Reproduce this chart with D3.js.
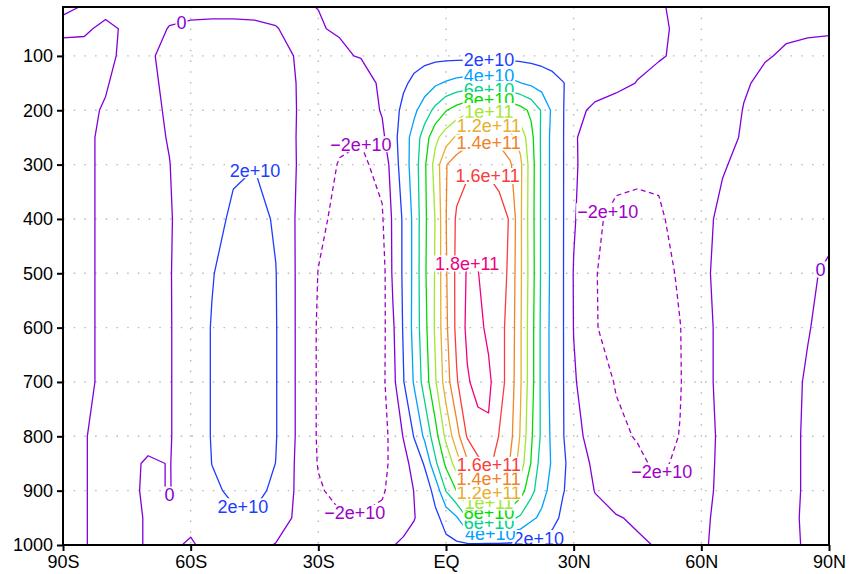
<!DOCTYPE html>
<html lang="en">
<head>
<meta charset="UTF-8">
<title>Zonal mean streamfunction</title>
<script src="https://d3js.org/d3.v7.min.js"></script>
<style>
  body { margin: 0; background: #fff; }
  text { font-family: "Liberation Sans", Arial, sans-serif; }
</style>
</head>
<body>
<svg width="850" height="574"></svg>
<script>
// grid columns: latitude (deg, south negative), finer in the tropics
const lats = [-90,-85,-80,-75,-70,-65,-60,-55,-50,-45,-40,-35,-30,-25,-20,-15,
  -12.5,-10,-7.5,-5,-2.5,0,2.5,5,7.5,10,12.5,15,17.5,20,22.5,25,27.5,
  30,35,40,45,50,55,60,65,70,75,80,85,90];
// grid rows: pressure (hPa), top to bottom
const plevs = [10,50,100,150,200,250,300,400,500,600,700,800,850,900,950,1000];

// streamfunction, in units of 1e10
const psi = [
  // 10
  [0.03,-0.01,-0.04,-0.03,-0.03,-0.03,-0.03,-0.03,-0.03,-0.03,-0.03,-0.03,0.005,0.02,0.03,0.04,
   0.04,0.04,0.04,0.04,0.04,0.04,0.04,0.04,0.04,0.04,0.04,0.04,0.04,0.04,0.04,0.04,0.04,
   0.04,0.035,0.03,0.02,0.005,-0.01,-0.02,-0.02,-0.02,-0.02,-0.02,-0.02,-0.02],
  // 50
  [-0.05,-0.02,0.03,-0.02,-0.04,0.005,0.02,0.025,0.025,0.02,0.005,-0.03,-0.03,0.05,0.15,0.25,
   0.3,0.35,0.4,0.45,0.5,0.55,0.6,0.6,0.6,0.6,0.6,0.55,0.5,0.5,0.45,0.4,0.35,
   0.3,0.25,0.15,0.1,0.03,-0.03,-0.06,-0.07,-0.07,-0.07,-0.06,-0.05,-0.04],
  // 100
  [0.1,0.05,0.05,-0.05,-0.05,0.1,0.15,0.2,0.25,0.25,0.15,-0.03,-0.15,-0.1,0.05,0.4,
   0.7,1.0,1.3,1.45,1.5,1.5,1.5,1.5,1.5,1.5,1.5,1.5,1.45,1.4,1.3,1.2,1.1,
   1.0,0.8,0.55,0.35,0.08,-0.15,-0.2,-0.15,-0.1,-0.03,0.05,0.1,0.12],
  // 150
  [0.15,0.05,0.02,-0.1,-0.1,0.1,0.2,0.35,0.5,0.55,0.4,-0.02,-0.3,-0.55,-0.5,0.2,
   0.9,1.7,2.4,3.0,3.7,4.2,4.6,4.8,4.9,4.9,4.8,4.5,4.05,3.6,3.1,2.6,2.05,
   1.6,0.9,0.4,-0.05,-0.3,-0.35,-0.3,-0.2,-0.05,0.1,0.2,0.25,0.25],
  // 200
  [0.2,0.05,-0.02,-0.2,-0.2,0.1,0.3,0.6,0.9,1.0,0.8,-0.02,-0.6,-1.0,-1.1,0.15,
   1.2,2.5,3.6,5.0,6.5,7.9,8.8,9.5,9.8,9.9,9.8,9.4,8.7,7.6,5.8,3.6,2.1,
   0.6,-0.4,-0.7,-0.8,-0.8,-0.6,-0.45,-0.25,0.02,0.2,0.3,0.3,0.3],
  // 250
  [0.2,0.05,-0.05,-0.25,-0.25,0.05,0.4,0.8,1.2,1.4,1.0,-0.05,-1.0,-1.7,-1.9,-0.4,
   1.3,3.0,4.8,7.0,9.5,11.0,12.3,13.2,13.6,13.6,13.4,12.6,11.3,8.6,5.6,3.4,2.1,
   0.2,-0.9,-1.1,-1.2,-1.2,-0.9,-0.6,-0.3,0.1,0.3,0.4,0.35,0.3],
  // 300
  [0.2,0.1,-0.1,-0.3,-0.3,-0.02,0.5,1.2,1.75,1.95,1.5,-0.05,-1.3,-2.1,-2.3,-1.5,
   0.9,3.0,4.9,7.7,10.8,13.9,15.0,15.5,15.7,15.7,15.4,14.3,12.4,9.0,5.6,3.4,2.1,
   0.3,-1.2,-1.6,-1.6,-1.6,-1.2,-0.6,-0.1,0.3,0.5,0.5,0.4,0.3],
  // 400
  [0.3,0.15,-0.15,-0.4,-0.4,-0.1,0.6,1.4,2.3,2.6,1.8,-0.2,-1.6,-2.5,-2.7,-2.2,
   0.3,2.3,4.5,7.6,10.1,13.95,16.3,17.3,17.5,17.1,16.6,15.9,12.3,8.9,5.6,3.4,2.1,
   0.2,-1.8,-2.3,-2.5,-2.3,-1.3,-0.4,0.3,0.6,0.7,0.6,0.4,0.2],
  // 500
  [0.4,0.15,-0.15,-0.5,-0.5,-0.1,0.9,1.9,2.8,3.0,2.05,-0.2,-2.05,-2.9,-3.1,-2.9,
   0.3,2.3,4.5,7.7,10.2,13.8,16.5,18.2,18.05,17.3,17.0,15.6,12.3,9.0,5.6,3.4,2.1,
   -0.1,-1.9,-2.8,-3.2,-2.9,-1.7,-0.3,0.4,0.6,0.6,0.4,0.1,-0.1],
  // 600
  [0.4,0.15,-0.15,-0.5,-0.5,-0.1,0.8,2.1,3.0,3.1,2.1,-0.2,-2.2,-3.1,-3.3,-2.7,
   -0.3,2.2,4.6,7.4,10.3,13.6,16.5,18.4,18.5,17.6,16.6,15.4,12.2,8.8,5.5,3.3,2.1,
   -0.05,-1.9,-2.6,-3.1,-3.1,-2.05,-0.5,0.4,0.6,0.6,0.5,0.05,-0.3],
  // 700
  [0.4,0.15,-0.15,-0.5,-0.5,-0.1,0.8,2.1,3.0,3.1,2.1,-0.2,-2.2,-3.1,-3.3,-2.5,
   -0.6,1.9,4.2,6.9,9.8,13.0,15.8,17.8,18.6,18.4,16.8,15.2,12.2,8.8,5.5,3.3,2.1,
   0.2,-1.3,-2.1,-2.8,-2.9,-2.1,-0.5,0.4,0.6,0.6,0.3,-0.1,-0.3],
  // 800
  [0.3,0.05,-0.3,-0.5,-0.5,-0.1,0.8,2.1,2.9,3.0,2.1,-0.2,-2.2,-3.0,-3.2,-2.6,
   -1.5,0.1,2.1,4.4,7.2,10.5,13.2,16.2,17.3,17.7,15.9,14.7,11.8,8.3,5.6,3.5,2.1,
   0.8,-1.0,-1.7,-2.1,-2.6,-1.95,-0.6,0.3,0.5,0.5,0.2,-0.1,-0.3],
  // 850
  [0.3,0.05,-0.3,-0.4,0.2,-0.05,0.7,2.02,2.8,2.9,1.98,-0.3,-2.1,-2.9,-3.0,-2.5,
   -1.6,-0.7,0.7,2.2,5.6,8.4,11.0,13.6,15.5,16.2,15.6,13.9,11.0,7.9,5.0,3.8,2.3,
   1.2,-0.4,-1.0,-1.7,-2.3,-1.7,-0.5,0.3,0.5,0.5,0.2,-0.1,-0.3],
  // 900
  [0.3,0.05,-0.3,-0.3,0.2,-0.05,0.6,1.7,2.3,2.4,1.7,-0.3,-1.8,-2.5,-2.6,-2.2,
   -1.5,-1.0,0.05,1.0,2.6,6.1,8.05,10.2,12.05,12.3,12.1,10.8,8.9,6.6,4.7,3.3,2.1,
   1.3,-0.05,-0.7,-1.2,-1.6,-1.3,-0.4,0.3,0.5,0.5,0.2,-0.1,-0.3],
  // 950
  [0.3,0.05,-0.3,-0.3,0.1,0.3,0.5,1.1,1.7,1.8,1.2,-0.4,-1.4,-1.8,-1.9,-1.6,
   -1.3,-0.9,-0.1,0.9,1.6,2.6,3.8,6.05,6.8,7.0,6.9,6.4,5.7,4.4,3.6,2.6,1.6,
   1.1,0.5,0.1,-0.2,-0.4,-0.4,-0.15,0.2,0.4,0.4,0.15,-0.1,-0.3],
  // 1000
  [0.3,0.05,-0.3,-0.3,0.1,0.3,-0.2,0.6,0.9,0.6,-0.1,-0.6,-0.9,-1.0,-1.0,-0.6,
   -0.1,0.4,0.8,1.1,1.4,1.6,1.7,1.75,1.75,1.7,1.7,1.65,1.6,1.5,1.35,1.2,1.1,
   0.9,0.6,0.4,0.2,-0.1,-0.3,-0.1,0.2,0.3,0.3,0.1,-0.05,-0.2]
];

// contour levels (1e10) and their colours
const levels = [-2, 0, 2, 4, 6, 8, 10, 12, 14, 16, 18];
const levelColors = ["#a000c8","#8200dc","#1e3cff","#00a0ff","#00d28c","#00dc00",
  "#a0e632","#e6af2d","#f08228","#fa3c3c","#f00082"];

const xTicks = [-90, -60, -30, 0, 30, 60, 90];
const xTickLabels = ["90S", "60S", "30S", "EQ", "30N", "60N", "90N"];
const yTicks = [100, 200, 300, 400, 500, 600, 700, 800, 900, 1000];

// where the contour labels sit: [level, lat, hPa]
const labelSpots = [
  [-2, -19, 250], [-2, -21.4, 940], [-2, 38.3, 387], [-2, 51.2, 869],
  [0, -62.5, 28], [0, -65, 925], [0, 87.4, 490],
  [2, -44.4, 309], [2, -47.9, 935], [2, 10.1, 111], [2, 22, 993],
  [4, 10.1, 135], [4, 10.4, 974],
  [6, 10.1, 160], [6, 10.1, 960],
  [8, 10.1, 180], [8, 10.1, 941],
  [10, 10.1, 200], [10, 10.1, 921],
  [12, 10.1, 227], [12, 10.1, 903],
  [14, 10.1, 255], [14, 10.1, 884],
  [16, 10.1, 310], [16, 10.1, 853],
  [18, 3.8, 481]
];

const X0 = 63, X1 = 829, Y0 = 7, Y1 = 545;
const svg = d3.select("svg");

const x = d3.scaleLinear().domain([-90, 90]).range([X0, X1]);
const y = d3.scaleLinear().domain([10, 1000]).range([Y0, Y1]);
// grid index -> coordinate (non uniform spacing)
const idxLat = d3.scaleLinear().domain(d3.range(lats.length)).range(lats).clamp(true);
const idxP = d3.scaleLinear().domain(d3.range(plevs.length)).range(plevs).clamp(true);

// dotted grid
const grid = svg.append("g")
  .attr("stroke", "#b8b8b8")
  .attr("stroke-width", 1.4)
  .attr("stroke-dasharray", "1.5 9.2");
grid.selectAll(".gx").data(xTicks.slice(1, -1)).join("line")
  .attr("x1", d => x(d)).attr("x2", d => x(d))
  .attr("y1", Y0).attr("y2", Y1);
grid.selectAll(".gy").data(yTicks.slice(0, -1)).join("line")
  .attr("x1", X0).attr("x2", X1)
  .attr("y1", d => y(d)).attr("y2", d => y(d));

// contours
const nx = lats.length, ny = plevs.length;
const contours = d3.contours()
  .size([nx, ny])
  .thresholds(levels)(psi.flat());

const toPx = p => [x(idxLat(p[0] - 0.5)), y(idxP(p[1] - 0.5))];
const eps = 0.01;
function onFrame(a, b) {
  return (Math.abs(a[0] - X0) < eps && Math.abs(b[0] - X0) < eps) ||
         (Math.abs(a[0] - X1) < eps && Math.abs(b[0] - X1) < eps) ||
         (Math.abs(a[1] - Y0) < eps && Math.abs(b[1] - Y0) < eps) ||
         (Math.abs(a[1] - Y1) < eps && Math.abs(b[1] - Y1) < eps);
}
// split a closed ring into open lines, dropping the parts that run along the frame
function ringToLines(ring) {
  const pts = ring.map(toPx);
  const k = pts.length - 1;
  let start = -1;
  for (let i = 0; i < k; i++) if (onFrame(pts[i], pts[i + 1])) { start = i; break; }
  if (start < 0) return [pts];
  const out = [];
  let cur = [];
  for (let s = 1; s <= k; s++) {
    const i = (start + s) % k;
    if (onFrame(pts[i], pts[i + 1])) {
      if (cur.length > 1) out.push(cur);
      cur = [];
    } else {
      if (!cur.length) cur.push(pts[i]);
      cur.push(pts[i + 1]);
    }
  }
  if (cur.length > 1) out.push(cur);
  return out;
}

const linesByLevel = new Map();
contours.forEach(c => {
  const lines = [];
  c.coordinates.forEach(poly => poly.forEach(ring => lines.push(...ringToLines(ring))));
  linesByLevel.set(c.value, lines);
});

const line = d3.line();
const cg = svg.append("g");
levels.forEach((lv, i) => {
  cg.selectAll(null).data(linesByLevel.get(lv) || []).join("path")
    .attr("d", line)
    .attr("fill", "none")
    .attr("stroke", levelColors[i])
    .attr("stroke-width", 1.3)
    .attr("stroke-linejoin", "round")
    .attr("stroke-dasharray", lv < 0 ? "5 3.5" : null);
});

// contour labels
function fmt(v) {
  if (v === 0) return "0";
  const a = Math.abs(v) * 1e10;
  const e = Math.floor(Math.log10(a) + 1e-9);
  const m = +(a / Math.pow(10, e)).toFixed(2);
  return (v < 0 ? "\u2212" : "") + m + "e+" + e;
}
function nearest(lines, tx, ty) {
  let best = null, bd = Infinity;
  lines.forEach(pl => {
    for (let i = 0; i < pl.length - 1; i++) {
      const [ax, ay] = pl[i], [bx, by] = pl[i + 1];
      const dx = bx - ax, dy = by - ay;
      const L = dx * dx + dy * dy;
      let t = L ? ((tx - ax) * dx + (ty - ay) * dy) / L : 0;
      t = Math.max(0, Math.min(1, t));
      const px = ax + t * dx, py = ay + t * dy;
      const d = (px - tx) ** 2 + (py - ty) ** 2;
      if (d < bd) { bd = d; best = [px, py]; }
    }
  });
  return best;
}

const lg = svg.append("g");
labelSpots.slice().sort((a, b) => a[0] - b[0]).forEach(([lv, la, p]) => {
  const pos = nearest(linesByLevel.get(lv) || [], x(la), y(p));
  if (!pos) return;
  const g = lg.append("g");
  const r = g.append("rect").attr("fill", "#fff");
  const t = g.append("text")
    .attr("x", pos[0])
    .attr("y", pos[1] + 6.5)
    .attr("text-anchor", "middle")
    .attr("font-size", 18)
    .attr("fill", levelColors[levels.indexOf(lv)])
    .text(fmt(lv));
  const bb = t.node().getBBox();
  r.attr("x", bb.x - 1).attr("width", bb.width + 2)
    .attr("y", pos[1] - 8).attr("height", 16);
});

// axes
const yAxis = svg.append("g")
  .attr("transform", `translate(${X0},0)`)
  .call(d3.axisLeft(y).tickValues(yTicks).tickSize(6).tickPadding(4).tickFormat(d3.format("d")));
const xAxis = svg.append("g")
  .attr("transform", `translate(0,${Y1})`)
  .call(d3.axisBottom(x).tickValues(xTicks).tickSize(6).tickPadding(4)
    .tickFormat((d, i) => xTickLabels[i]));
[yAxis, xAxis].forEach(a => {
  a.select(".domain").remove();
  a.selectAll(".tick line").attr("stroke", "#000").attr("stroke-width", 2);
  a.selectAll(".tick text").attr("fill", "#000").attr("font-size", 18)
    .attr("font-family", "Liberation Sans, Arial, sans-serif");
});

// frame
svg.append("rect")
  .attr("x", X0).attr("y", Y0)
  .attr("width", X1 - X0).attr("height", Y1 - Y0)
  .attr("fill", "none")
  .attr("stroke", "#000")
  .attr("stroke-width", 2);
</script>
</body>
</html>
